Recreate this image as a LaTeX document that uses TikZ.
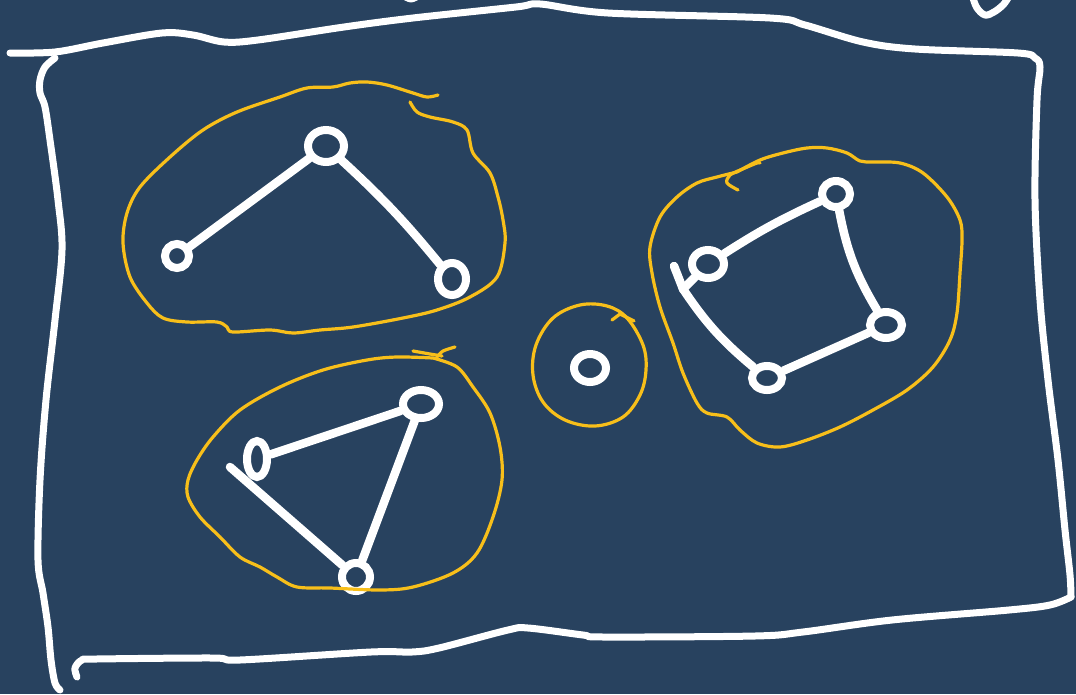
\documentclass[tikz,border=0pt]{standalone}
\usetikzlibrary{shapes.geometric}
\definecolor{bgblue}{HTML}{28425F}
\definecolor{penyellow}{HTML}{F8BF1A}
\tikzset{
  frame/.style={draw=white, line width=7pt, line cap=round, line join=round},
  blob/.style={draw=penyellow, line width=3.2pt, line cap=round, line join=round},
  vtx/.style={ellipse, draw=white, line width=8pt, inner sep=0pt, minimum width=#1, minimum height=#1},
  vtx/.default=26pt,
  vtxe/.style 2 args={ellipse, draw=white, line width=8pt, inner sep=0pt, minimum width=#1, minimum height=#2},
  edge/.style={draw=white, line width=8.5pt, line cap=round}
}
\begin{document}
\begin{tikzpicture}[x=1pt,y=-1pt]
\useasboundingbox (0,0) rectangle (1076,694);
\fill[bgblue] (0,0) rectangle (1076,694);

% outer hand-drawn frame
\draw[frame] plot[smooth, tension=0.55] coordinates {(10,53) (55,52) (103,43) (162,33) (193,35) (224,42) (258,40) (344,27) (413,18) (516,7) (540,4) (608,13) (770,18) (805,25) (863,42) (915,49) (1018,53) (1035,58) (1040,67) (1037,100) (1035,200) (1040,300) (1048,380) (1058,460) (1065,530) (1070,575) (1071,597)};
\draw[frame] plot[smooth, tension=0.55] coordinates {(1071,597) (1050,605) (1009,610) (892,620) (803,632) (755,636) (604,637) (583,635) (528,628) (508,630) (439,648) (412,652) (371,652) (240,660) (213,658) (96,659) (82,660) (75,668) (77,677)};
\draw[frame] plot[smooth, tension=0.55] coordinates {(55,58) (45,67) (40,80) (40,93) (45,107) (50,140) (58,200) (62,250) (55,320) (46,400) (40,480) (38,560) (43,593) (48,627) (51,660) (55,683) (60,690)};
\draw[frame] plot[smooth, tension=0.6] coordinates {(973,-2) (977,8) (985,15) (994,12) (1003,5) (1008,-2)};
\draw[frame] plot[smooth] coordinates {(404,-4) (411,-1) (418,-4)};

% component 1 (path of three)
\node[vtx=24pt] (A) at (177,256) {};
\node[vtxe={36pt}{32pt}] (B) at (326,146) {};
\node[vtxe={28pt}{32pt}] (C) at (452,279) {};
\draw[edge] (A) -- (B);
\draw[edge] (B) to[bend left=4] (C);
\draw[blob] plot[smooth, tension=0.55] coordinates {(438,95) (427,97) (413,93) (387,85) (367,82) (350,83) (333,87) (307,88) (280,97) (237,112) (203,130) (170,157) (140,187) (127,213) (123,243) (130,277) (147,303) (163,318) (187,322) (217,322) (227,327) (233,332) (270,330) (293,333) (320,330) (353,327) (403,318) (437,310) (470,297) (497,277) (505,243) (503,220) (498,197) (490,173) (473,153) (467,130) (453,122) (430,117) (417,112) (410,102)};

% component 2 (triangle)
\node[vtxe={20pt}{36pt}] (D) at (257,459) {};
\node[vtxe={36pt}{28pt}] (E) at (421,404) {};
\node[vtx=28pt] (F) at (356,577) {};
\coordinate (tD) at (230,467);
\draw[edge] (D) -- (E);
\draw[edge] (E) -- (F);
\draw[edge] (F) -- (tD);
\draw[blob] plot[smooth, tension=0.55] coordinates {(433,358) (457,367) (473,387) (490,413) (500,447) (502,480) (493,517) (477,553) (453,573) (413,587) (380,590) (330,588) (297,587) (277,577) (260,567) (240,557) (220,537) (200,517) (188,497) (188,480) (197,460) (213,437) (240,410) (280,387) (323,370) (367,360) (397,357) (433,358)};
\draw[blob] plot[smooth] coordinates {(413,351) (430,354) (442,356)};
\draw[blob] plot[smooth] coordinates {(437,357) (443,351) (455,347)};

% component 3 (single vertex)
\node[vtxe={32pt}{28pt}] (G) at (590,368) {};
\draw[blob] plot[smooth cycle, tension=0.6] coordinates {(627,318) (643,345) (646,370) (640,395) (623,417) (595,426) (565,420) (543,402) (533,375) (536,345) (553,318) (580,305) (607,306)};
\draw[blob] (612,320) -- (620,314) -- (634,321);

% component 4 (cycle of four)
\node[vtxe={32pt}{28pt}] (H) at (708,264) {};
\node[vtxe={28pt}{26pt}] (I) at (836,194) {};
\node[vtxe={32pt}{26pt}] (J) at (886,325) {};
\node[vtxe={30pt}{24pt}] (K) at (767,378) {};
\coordinate (tH) at (674,266);
\coordinate (vH) at (683,289);
\draw[edge] (H) to[bend left=4] (I);
\draw[edge] (I) to[bend right=10] (J);
\draw[edge] (J) -- (K);
\draw[edge] (K) to[bend left=8] (vH);
\draw[edge] (vH) -- (tH);
\draw[edge] (vH) -- (H);
\draw[blob] plot[smooth, tension=0.55] coordinates {(737,172) (760,160) (783,153) (807,148) (827,148) (847,153) (860,161) (873,162) (900,163) (923,173) (947,197) (960,220) (962,240) (960,273) (957,313) (950,340) (933,367) (907,390) (873,410) (840,427) (807,440) (780,447) (757,443) (740,430) (727,417) (707,413) (697,403) (683,373) (673,343) (660,307) (652,273) (650,247) (660,217) (677,197) (697,183) (717,177) (737,172)};
\draw[blob] plot[smooth] coordinates {(738,190) (727,183) (730,175) (745,168) (757,163) (760,163)};
\end{tikzpicture}
\end{document}
